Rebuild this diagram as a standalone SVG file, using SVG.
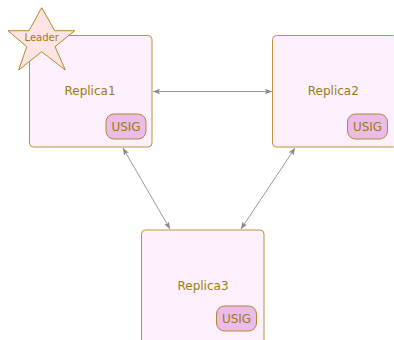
<svg xmlns="http://www.w3.org/2000/svg" width="394" height="340" viewBox="0 0 394 340">
<style>
.node{fill:#fdf0fd;stroke:#c0903a;stroke-width:1}
.usig{fill:#ebbcea;stroke:#b8862b;stroke-width:1}
.lbl{font-family:"DejaVu Sans",sans-serif;font-size:12px;fill:#9a7b12;text-anchor:middle}
.star{fill:#ffe4e4;stroke:#b8862b;stroke-width:1}
.edge{stroke:#999;stroke-width:1;fill:none;marker-start:url(#ah);marker-end:url(#ah)}
</style>
<defs>
<marker id="ah" viewBox="0 0 10 10" refX="10" refY="5" markerWidth="7" markerHeight="7" markerUnits="userSpaceOnUse" orient="auto-start-reverse">
<path d="M0,1 L10,5 L0,9 L2,5 Z" fill="#888"/>
</marker>
</defs>
<g id="connectors">
<line class="edge" x1="153" y1="91.5" x2="272" y2="91.5"/>
<line class="edge" x1="123" y1="148" x2="170" y2="229"/>
<line class="edge" x1="295" y1="148" x2="241" y2="229"/>
</g>
<g id="replica1">
<rect class="node" x="29.5" y="35.5" width="122.5" height="111.5" rx="4"/>
<text class="lbl" x="90" y="95">Replica1</text>
<rect class="usig" x="106" y="114" width="40" height="25" rx="8"/>
<text class="lbl" x="126" y="130.5">USIG</text>
</g>
<g id="leader">
<polygon class="star" points="41.7,7.7 54.7,30.7 74.7,30.7 55,46.7 65.3,70 41.7,51.7 18.7,70 26.7,46.7 8,30.7 29,30.7"/>
<text class="lbl" x="41.7" y="41" style="font-size:10px">Leader</text>
</g>
<g id="replica2">
<rect class="node" x="272.5" y="35.5" width="125" height="111.5" rx="4"/>
<text class="lbl" x="333.3" y="95">Replica2</text>
<rect class="usig" x="347.5" y="114" width="40" height="25" rx="8"/>
<text class="lbl" x="367.5" y="131">USIG</text>
</g>
<g id="replica3">
<rect class="node" x="141.5" y="230" width="122.5" height="115" rx="4"/>
<text class="lbl" x="203" y="289.5">Replica3</text>
<rect class="usig" x="216.5" y="306" width="40" height="25" rx="8"/>
<text class="lbl" x="236.5" y="322.7">USIG</text>
</g>
</svg>
